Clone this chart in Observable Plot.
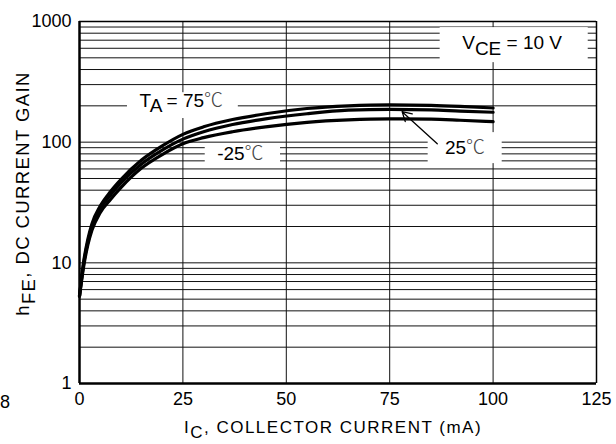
<!DOCTYPE html>
<html><head><meta charset="utf-8">
<script src="https://cdn.jsdelivr.net/npm/d3@7"></script>
<script src="https://cdn.jsdelivr.net/npm/@observablehq/plot@0.6"></script>
<style>body{margin:0;background:#fff}</style>
</head><body><div id="chart"></div>
<script>
// ---- data ----
const currents = [0, 1, 2, 3, 5, 7.5, 10, 15, 20, 25, 30, 37, 45, 55, 65, 75, 85, 92, 100];
const hfe75  = [5.3, 10.2, 15.6, 21, 29.5, 39, 49, 71, 93, 116, 134, 154, 172, 190, 200, 204, 202, 198, 192];
const hfe25  = [5.3, 9.8, 14.8, 19.8, 28, 36.5, 46, 66, 86, 106, 122, 140, 156, 172, 184, 187, 185, 181, 177];
const hfeM25 = [5.3, 9.3, 14, 18.6, 26, 33.5, 42, 61, 79, 97, 109, 122, 134, 146, 153, 156, 155, 152, 148];
const seriesNames = ["75", "25", "-25"];

const xTicks = [0, 25, 50, 75, 100, 125];
const yTicks = [1, 10, 100, 1000];
const xGrid = [25, 50, 75, 100];
const decades = [1, 10, 100];
const multipliers = [2, 3, 4, 5, 6, 7, 8, 9, 10];

const xLabel = "I{C}, COLLECTOR CURRENT (mA)";
const yLabel = "h{FE}, DC CURRENT GAIN";

// annotation labels: text, x (mA), y (hFE)
const labelText = ["V{CE} = 10 V", "T{A} = 75℃", "-25℃", "25℃"];
const labelX = [104.6, 24.6, 38.9, 93.2];
const labelY = [662, 221, 79.5, 90];
// white boxes behind labels
const boxX1 = [87.2, 11.6, 30.4, 84.3];
const boxX2 = [123, 38.4, 48.6, 102.2];
const boxY1 = [456, 157, 61.5, 66.4];
const boxY2 = [890, 257, 97.2, 120];
// arrow for 25℃
const arrowFrom = {x: 86.5, y: 97};
const arrowTo = {x: 78, y: 179};
// stray tick fragment at left of x axis
const strayText = ["8"];
const strayX = [-18];

// ---- build tables ----
const curveRows = [];
[hfe75, hfe25, hfeM25].forEach((arr, k) => {
  currents.forEach((c, i) => curveRows.push({I: c, h: arr[i], T: seriesNames[k]}));
});
const yGrid = decades.flatMap(d => multipliers.map(m => d * m)).filter(v => v < 1000);
const labels = labelText.map((t, i) => ({t, x: labelX[i], y: labelY[i]}));
const boxes = boxX1.map((_, i) => ({x1: boxX1[i], x2: boxX2[i], y1: boxY1[i], y2: boxY2[i]}));

const FONT = "'Liberation Sans', Arial, Helvetica, sans-serif";

const chart = Plot.plot({
  width: 616, height: 444,
  marginLeft: 79, marginRight: 20, marginTop: 21, marginBottom: 61,
  style: {fontFamily: FONT, fontSize: "18px", background: "#fff", color: "#000", overflow: "visible"},
  x: {domain: [0, 125], ticks: xTicks, tickSize: 0, tickPadding: 9, label: null},
  y: {type: "log", domain: [1, 1000], ticks: yTicks, tickFormat: d => String(d), tickSize: 0, tickPadding: 8, label: null},
  marks: [
    Plot.ruleY(yGrid, {stroke: "#111", strokeWidth: 1}),
    Plot.ruleX(xGrid, {stroke: "#111", strokeWidth: 1}),
    Plot.ruleY([1000], {stroke: "#000", strokeWidth: 1.5}),
    Plot.ruleX([125], {stroke: "#000", strokeWidth: 1.5}),
    Plot.ruleX([0], {stroke: "#000", strokeWidth: 2.5}),
    Plot.ruleY([1], {stroke: "#000", strokeWidth: 2.5}),
    Plot.rect(boxes, {x1: "x1", x2: "x2", y1: "y1", y2: "y2", fill: "#fff"}),
    Plot.line(curveRows, {x: "I", y: "h", z: "T", stroke: "#000", strokeWidth: 3.2, curve: "monotone-x"}),
    Plot.arrow([0], {x1: () => arrowFrom.x, y1: () => arrowFrom.y, x2: () => arrowTo.x, y2: () => arrowTo.y, stroke: "#000", strokeWidth: 1.3, headLength: 12}),
    Plot.text(labels, {x: "x", y: "y", text: "t", fontSize: 19, fill: "#000"}),
    Plot.text(strayText, {x: strayX, y: [1], text: d => d, dy: 19, fontSize: 18}),
    Plot.text([xLabel], {frameAnchor: "bottom", text: d => d, dy: 49, dx: -5, fontSize: 17}),
    Plot.text([yLabel], {frameAnchor: "left", textAnchor: "middle", text: d => d, dx: -56, dy: -9, rotate: -90, fontSize: 18.5})
  ]
});

// subscripts: convert {..} into lowered tspans; degree-Celsius sign in CJK face
d3.select(chart).selectAll("text").each(function() {
  const t = this.textContent;
  if (!t.includes("{") && !t.includes("℃")) return;
  const parts = t.split(/(\{[^}]*\}|℃)/).filter(p => p.length);
  const sel = d3.select(this);
  sel.text(null);
  let lowered = false;
  parts.forEach(p => {
    if (p.startsWith("{")) {
      sel.append("tspan").attr("dy", "0.3em").text(p.slice(1, -1));
      lowered = true;
    } else {
      const ts = sel.append("tspan").text(p);
      if (p === "℃") ts.style("font-family", "'Noto Sans CJK JP', 'Noto Sans CJK SC', sans-serif").style("font-weight", "300").attr("fill", "#444");
      if (lowered) { ts.attr("dy", "-0.3em"); lowered = false; }
    }
  });
  if (t === xLabel) sel.style("letter-spacing", "1.5px");
  if (t === yLabel) sel.style("letter-spacing", "1.4px");
});

document.getElementById("chart").appendChild(chart);
</script>
</body></html>
